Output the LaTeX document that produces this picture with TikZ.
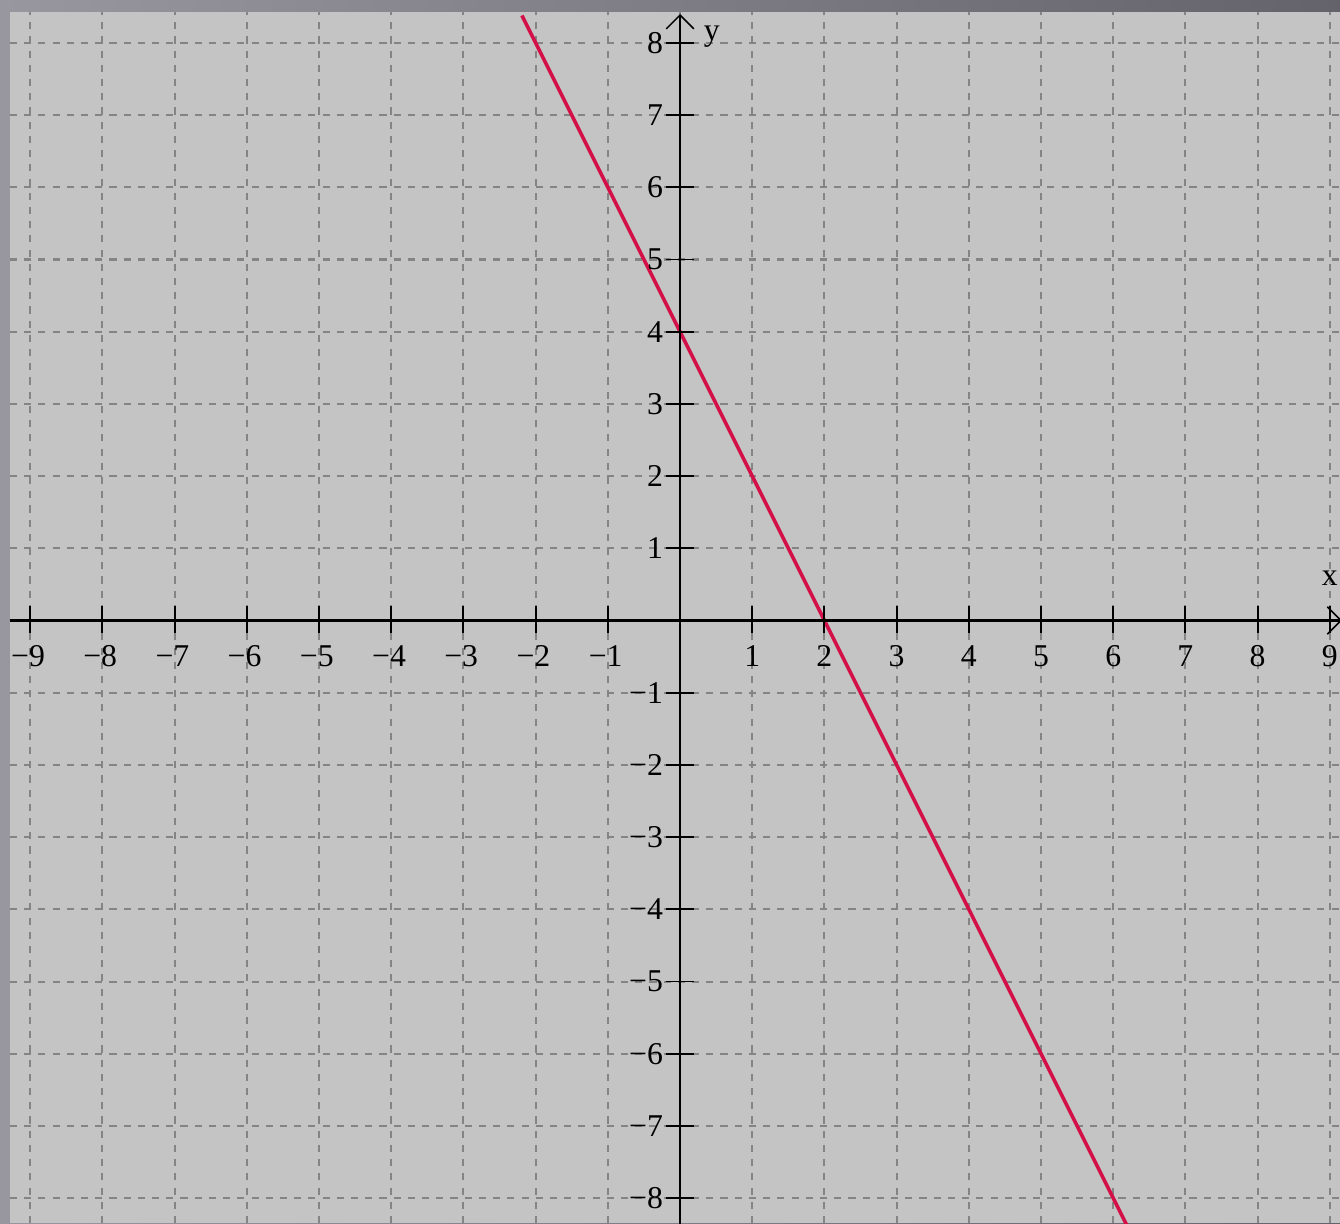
\documentclass[tikz,border=0pt]{standalone}
\usepackage{fontspec}
\setmainfont{Liberation Serif}
\usetikzlibrary{arrows.meta}
\definecolor{plotbg}{RGB}{196,196,196}
\definecolor{gridc}{RGB}{132,132,132}
\definecolor{linec}{RGB}{212,16,72}
\definecolor{frameL}{RGB}{152,150,158}
\definecolor{frameR}{RGB}{100,98,106}
\begin{document}
\begin{tikzpicture}[x=1cm,y=1cm,
  gridline/.style={gridc, line width=0.8pt, dash pattern=on 2.8pt off 2.8pt},
  axisline/.style={black, line width=1.1pt},
  tickline/.style={black, line width=0.75pt},
  ticklab/.style={font=\fontsize{12.5}{14}\selectfont, inner sep=0pt},
  axlab/.style={font=\fontsize{12.5}{14}\selectfont, inner sep=0pt},
  graphline/.style={linec, line width=1.4pt},
  axtip/.style={-{Straight Barb[length=0.19cm,width=0.38cm,line width=0.6pt]}}
]
\useasboundingbox (-9.418,-8.345) rectangle (9.141,8.594);
\shade[left color=frameL, right color=frameR] (-9.418,-8.345) rectangle (9.141,8.594);
\fill[plotbg] (-9.28,-8.345) rectangle (9.141,8.428);
\begin{scope}
  \clip (-9.28,-8.345) rectangle (9.141,8.428);
  \foreach \i in {-9,...,9} \draw[gridline] (\i,-8.345) -- (\i,8.428);
  \foreach \j in {-8,...,8} \draw[gridline] (-9.28,\j) -- (9.141,\j);
  \coordinate (gA) at (-2.19,8.38);
  \coordinate (gB) at (6.22,-8.44);
  \draw[graphline] (gA) -- (gB);
\end{scope}
% axes
\coordinate (xL) at (-9.28,0);
\coordinate (xR) at (9.17,0);
\coordinate (yB) at (0,-8.40);
\coordinate (yT) at (0,8.40);
\draw[axisline,axtip] (xL) -- (xR);
\draw[axisline,axtip] (yB) -- (yT);
% ticks and labels
\foreach \i in {1,...,9} {
  \draw[tickline] (\i,-0.17) -- (\i,0.2);
  \draw[tickline] (-\i,-0.17) -- (-\i,0.2);
  \node[ticklab] (xp\i) at (\i,-0.49) {\i};
  \node[ticklab] (xn\i) at (-\i-0.03,-0.49) {−\i};
}
\foreach \j in {1,...,8} {
  \draw[tickline] (-0.2,\j) -- (0.2,\j);
  \draw[tickline] (-0.2,-\j) -- (0.2,-\j);
  \node[ticklab,anchor=east] (yp\j) at (-0.23,\j) {\j};
  \node[ticklab,anchor=east] (yn\j) at (-0.23,-\j) {−\j};
}
\node[axlab] (xlab) at (9.0,0.58) {x};
\node[axlab] (ylab) at (0.44,8.08) {y};
\end{tikzpicture}
\end{document}
